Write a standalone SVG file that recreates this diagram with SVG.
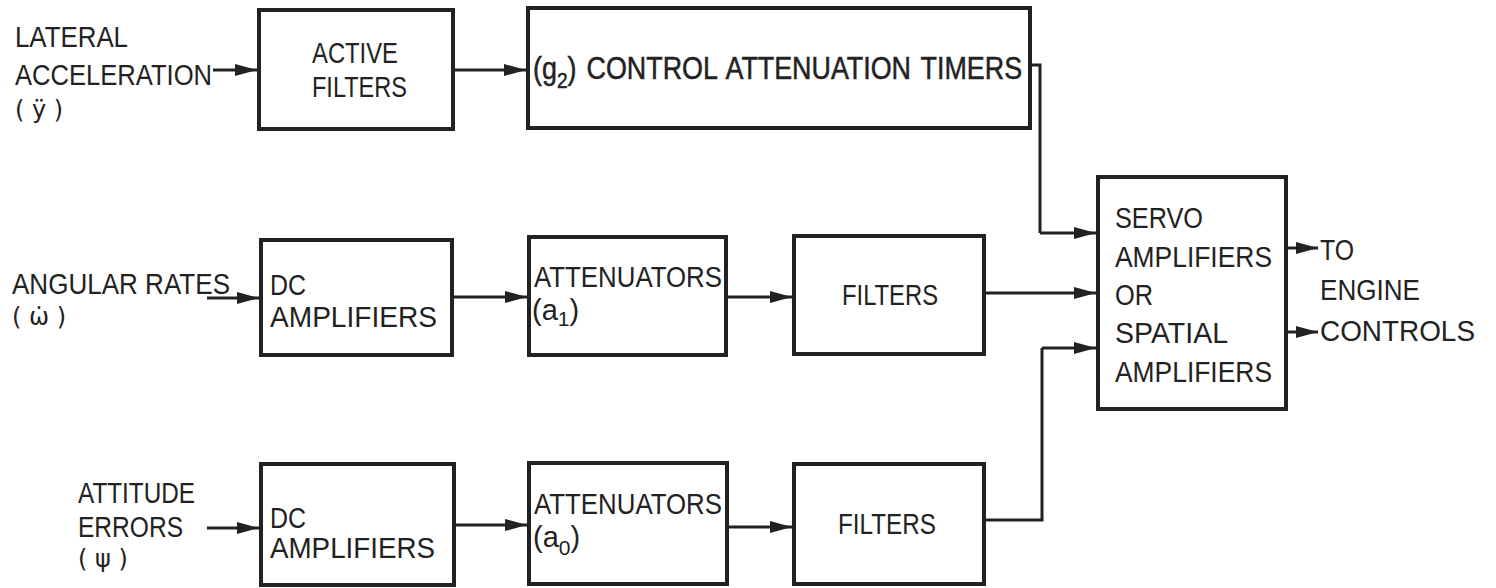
<svg xmlns="http://www.w3.org/2000/svg" width="1496" height="588" viewBox="0 0 1496 588">
<style>
.box{fill:none;stroke:#222;stroke-width:4}
.ln{fill:none;stroke:#222;stroke-width:3}
text{font-family:"Liberation Sans",Arial,sans-serif;font-size:29px;fill:#222}
.big{font-size:31px;stroke:#222;stroke-width:0.5;word-spacing:3px}
.sym{font-family:"DejaVu Sans",sans-serif;font-size:24px}
</style>
<defs>
<marker id="ah" markerUnits="userSpaceOnUse" markerWidth="24" markerHeight="16" refX="22" refY="7" orient="auto">
<path d="M0,1 L22,7 L0,13 Z" fill="#222"/>
</marker>
</defs>
<rect width="1496" height="588" fill="#fff"/>
<g id="in-lateral">
<text x="15" y="47" textLength="113" lengthAdjust="spacingAndGlyphs">LATERAL</text>
<text x="15" y="85" textLength="197" lengthAdjust="spacingAndGlyphs">ACCELERATION</text>
<text class="sym" x="15" y="118">( ÿ )</text>
</g>
<g id="in-angular">
<text x="12" y="294" textLength="218" lengthAdjust="spacingAndGlyphs">ANGULAR RATES</text>
<text class="sym" x="12" y="325">( ω̇ )</text>
</g>
<g id="in-attitude">
<text x="78" y="503" textLength="117" lengthAdjust="spacingAndGlyphs">ATTITUDE</text>
<text x="78" y="537" textLength="105" lengthAdjust="spacingAndGlyphs">ERRORS</text>
<text class="sym" x="78" y="567">( ψ )</text>
</g>
<g id="active-filters">
<rect class="box" x="259" y="10" width="194" height="119"/>
<text x="312" y="63" textLength="86" lengthAdjust="spacingAndGlyphs">ACTIVE</text>
<text x="312" y="97" textLength="95" lengthAdjust="spacingAndGlyphs">FILTERS</text>
</g>
<g id="timers">
<rect class="box" x="528" y="8" width="502" height="120"/>
<text class="big" transform="translate(533,79) scale(0.867,1)">(g<tspan font-size="22" dy="9">2</tspan><tspan dy="-9">) CONTROL ATTENUATION TIMERS</tspan></text>
</g>
<g id="dc1">
<rect class="box" x="261" y="240" width="191" height="115"/>
<text x="270" y="295" textLength="36" lengthAdjust="spacingAndGlyphs">DC</text>
<text x="270" y="327" textLength="167" lengthAdjust="spacingAndGlyphs">AMPLIFIERS</text>
</g>
<g id="att1">
<rect class="box" x="529" y="237" width="197" height="118"/>
<text x="534" y="287" textLength="188" lengthAdjust="spacingAndGlyphs">ATTENUATORS</text>
<text x="532" y="320">(a<tspan font-size="21" dy="6">1</tspan><tspan dy="-6">)</tspan></text>
</g>
<g id="filters1">
<rect class="box" x="794" y="236" width="190" height="118"/>
<text x="842" y="305" textLength="96" lengthAdjust="spacingAndGlyphs">FILTERS</text>
</g>
<g id="dc0">
<rect class="box" x="261" y="464" width="193" height="121"/>
<text x="270" y="528" textLength="36" lengthAdjust="spacingAndGlyphs">DC</text>
<text x="270" y="558" textLength="165" lengthAdjust="spacingAndGlyphs">AMPLIFIERS</text>
</g>
<g id="att0">
<rect class="box" x="529" y="463" width="198" height="121"/>
<text x="534" y="514" textLength="188" lengthAdjust="spacingAndGlyphs">ATTENUATORS</text>
<text x="533" y="547">(a<tspan font-size="21" dy="8">0</tspan><tspan dy="-8">)</tspan></text>
</g>
<g id="filters0">
<rect class="box" x="794" y="464" width="190" height="120"/>
<text x="838" y="534" textLength="98" lengthAdjust="spacingAndGlyphs">FILTERS</text>
</g>
<g id="servo">
<rect class="box" x="1098" y="177" width="188" height="232"/>
<text x="1115" y="228" textLength="88" lengthAdjust="spacingAndGlyphs">SERVO</text>
<text x="1115" y="267" textLength="157" lengthAdjust="spacingAndGlyphs">AMPLIFIERS</text>
<text x="1115" y="305" textLength="38" lengthAdjust="spacingAndGlyphs">OR</text>
<text x="1115" y="343" textLength="113" lengthAdjust="spacingAndGlyphs">SPATIAL</text>
<text x="1115" y="382" textLength="157" lengthAdjust="spacingAndGlyphs">AMPLIFIERS</text>
</g>
<g id="out-label">
<text x="1320" y="260" textLength="34" lengthAdjust="spacingAndGlyphs">TO</text>
<text x="1320" y="300" textLength="100" lengthAdjust="spacingAndGlyphs">ENGINE</text>
<text x="1320" y="341" textLength="155" lengthAdjust="spacingAndGlyphs">CONTROLS</text>
</g>
<g id="connectors">
<path class="ln" marker-end="url(#ah)" d="M213,70 H257"/>
<path class="ln" marker-end="url(#ah)" d="M453,70 H526"/>
<path class="ln" d="M1030,65 H1040 V233"/>
<path class="ln" marker-end="url(#ah)" d="M1040,233 H1096"/>
<path class="ln" marker-end="url(#ah)" d="M207,298 H259"/>
<path class="ln" marker-end="url(#ah)" d="M452,297 H527"/>
<path class="ln" marker-end="url(#ah)" d="M726,297 H792"/>
<path class="ln" marker-end="url(#ah)" d="M984,293 H1096"/>
<path class="ln" marker-end="url(#ah)" d="M207,528 H259"/>
<path class="ln" marker-end="url(#ah)" d="M454,525 H527"/>
<path class="ln" marker-end="url(#ah)" d="M727,527 H792"/>
<path class="ln" d="M984,520 H1042 V348"/>
<path class="ln" marker-end="url(#ah)" d="M1042,348 H1096"/>
<path class="ln" marker-end="url(#ah)" d="M1286,248 H1318"/>
<path class="ln" marker-end="url(#ah)" d="M1286,332 H1318"/>
</g>
</svg>
